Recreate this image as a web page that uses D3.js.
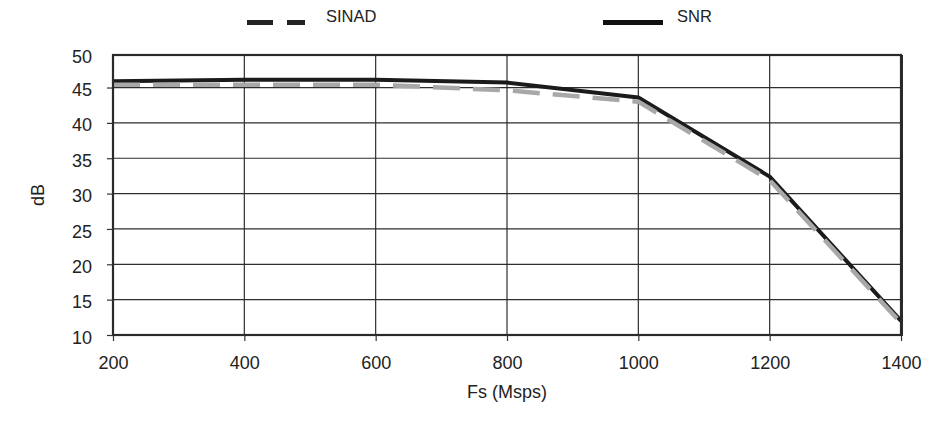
<!DOCTYPE html>
<html><head><meta charset="utf-8">
<script src="https://cdn.jsdelivr.net/npm/d3@7"></script>
<style>
html,body{margin:0;padding:0;background:#fff;}
text{font-family:"Liberation Sans",Arial,sans-serif;fill:#222;}
</style></head>
<body><svg id="c" width="926" height="428"></svg>
<script>
const fs = [200, 400, 600, 800, 1000, 1200, 1400];
const sinad = [45.4, 45.4, 45.4, 44.6, 43.0, 31.9, 11.7];
const snr = [45.9, 46.1, 46.1, 45.7, 43.6, 32.4, 12.0];
const xTicks = [200, 400, 600, 800, 1000, 1200, 1400];
const yTicks = [10, 15, 20, 25, 30, 35, 40, 45, 50];
const seriesNames = ["SINAD", "SNR"];

const svg = d3.select("#c");
const L = 113, R = 901, T = 55, B = 335;
const x = d3.scaleLinear().domain([200, 1400]).range([L, R]);
const y = d3.scaleLinear().domain([10, 49.6]).range([B, T]);

// gridlines
const g = svg.append("g");
g.selectAll(".hg").data(yTicks.filter(v => v > 10 && v < 50)).join("line")
  .attr("x1", L).attr("x2", R).attr("y1", d => y(d)).attr("y2", d => y(d))
  .attr("stroke", "#2e2e2e").attr("stroke-width", 1.2);
g.selectAll(".vg").data(xTicks.filter(v => v > 200 && v < 1400)).join("line")
  .attr("y1", T).attr("y2", B).attr("x1", d => x(d)).attr("x2", d => x(d))
  .attr("stroke", "#2e2e2e").attr("stroke-width", 1.2);

// axes
const yAxis = svg.append("g").attr("transform", `translate(${L},0)`)
  .call(d3.axisLeft(y).tickValues(yTicks).tickSize(6).tickPadding(15));
yAxis.select(".domain").remove();
yAxis.selectAll(".tick line").attr("stroke", "#333").attr("stroke-width", 1.2)
  .attr("opacity", d => d === 50 ? 0 : 1);
yAxis.selectAll(".tick text").style("font-size", "18px").attr("fill", "#222")
  .attr("dy", d => d === 50 ? "0.55em" : "0.45em");

const xAxis = svg.append("g").attr("transform", `translate(0,${B})`)
  .call(d3.axisBottom(x).tickValues(xTicks).tickFormat(d3.format("d")).tickSize(6).tickPadding(15));
xAxis.select(".domain").remove();
xAxis.selectAll(".tick line").attr("stroke", "#333").attr("stroke-width", 1.2);
xAxis.selectAll(".tick text").style("font-size", "18px").attr("fill", "#222");

// lines
const line = d3.line().x((d, i) => x(fs[i])).y(d => y(d));
svg.append("path").datum(snr).attr("d", line).attr("fill", "none")
  .attr("stroke", "#1b1b1b").attr("stroke-width", 4).attr("stroke-linejoin", "round");
svg.append("path").datum(sinad).attr("d", line).attr("fill", "none")
  .attr("stroke", "#a8a8a8").attr("stroke-width", 4.5).attr("stroke-dasharray", "27,13");

// frame
svg.append("rect").attr("x", L).attr("y", T).attr("width", R - L).attr("height", B - T)
  .attr("fill", "none").attr("stroke", "#2a2a2a").attr("stroke-width", 2.2);
svg.append("line").attr("x1", R + 0.5).attr("x2", R + 0.5).attr("y1", T).attr("y2", B + 1)
  .attr("stroke", "#2a2a2a").attr("stroke-width", 3);

// axis titles
svg.append("text").attr("transform", `translate(44,${(T + B) / 2}) rotate(-90)`)
  .attr("text-anchor", "middle").style("font-size", "18px").text("dB");
svg.append("text").attr("x", (L + R) / 2).attr("y", 398)
  .attr("text-anchor", "middle").style("font-size", "18px").text("Fs (Msps)");

// legend
const lg = svg.append("g");
lg.append("line").attr("x1", 247).attr("x2", 305).attr("y1", 22.5).attr("y2", 22.5)
  .attr("stroke", "#222").attr("stroke-width", 5).attr("stroke-dasharray", "26,14");
lg.append("text").attr("x", 326).attr("y", 22).style("font-size", "16.5px").text(seriesNames[0]);
lg.append("line").attr("x1", 603).attr("x2", 663).attr("y1", 22.5).attr("y2", 22.5)
  .attr("stroke", "#111").attr("stroke-width", 5);
lg.append("text").attr("x", 677).attr("y", 22).style("font-size", "16.5px").text(seriesNames[1]);
</script></body></html>
